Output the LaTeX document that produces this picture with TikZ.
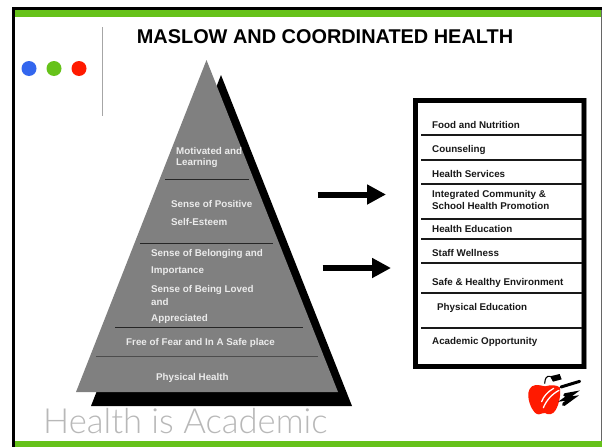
\documentclass[tikz,border=0pt]{standalone}
\usepackage{fontspec}
\setmainfont{Liberation Sans}
\newfontfamily\thinfont[UprightFont={* Light}]{Lato}
\usepackage{xcolor}
\usetikzlibrary{arrows.meta, positioning}
\definecolor{barGreen}{HTML}{66C21A}
\definecolor{dotBlue}{HTML}{3366EE}
\definecolor{appleRed}{HTML}{FF1A00}
\definecolor{pyrGray}{HTML}{808080}
\tikzstyle{arrow} = [line width=6pt,-{Triangle[length=19pt,width=19pt]}]

\begin{document}
\begin{tikzpicture}[x=1pt, y=-1pt]
\tikzstyle{level} = [inner sep=0pt, anchor=west, text=white!92!black, font=\fontsize{9.8}{10}\selectfont\bfseries]
\tikzstyle{item} = [inner sep=0pt, anchor=west, text=black!90, font=\fontsize{9.8}{10}\selectfont\bfseries]
\tikzstyle{divider} = [line width=0.8pt, black!85]
\tikzstyle{rowline} = [line width=1.5pt, black!90]
\tikzstyle{dot} = [circle, minimum size=15pt, inner sep=0pt]

\useasboundingbox (0,0) rectangle (602,447);
\fill[white] (0,0) rectangle (602,447);

% frame and bars
\fill[black] (12,7) rectangle (602,10);
\fill[black] (12,7) rectangle (15,447);
\fill[black!60] (600.5,10) rectangle (602,441);
\fill[barGreen] (15,10) rectangle (601,17);
\fill[barGreen] (15,441) rectangle (602,447);

\node (dotb) [dot, fill=dotBlue] at (29,68.5) {};
\node (dotg) [dot, fill=barGreen] at (54,68.5) {};
\node (dotr) [dot, fill=appleRed] at (79,68.5) {};
\draw[black!35, line width=1pt] (102.5,27) -- (102.5,115.5);

\node (title) [inner sep=0pt, font=\fontsize{19.9}{22}\selectfont\bfseries] at (325,36.5) {MASLOW AND COORDINATED HEALTH};

% pyramid
\fill[black] (221,75) -- (352,406) -- (91,406) -- cycle;
\fill[pyrGray] (206.5,60) -- (338,392) -- (76,392) -- cycle;
\draw[divider] (165,179.5) -- (249,179.5);
\draw[divider] (140,243.7) -- (273,243.7);
\draw[divider] (115,327.3) -- (303,327.3);
\draw[divider, black!70, line width=1pt] (96,356.7) -- (318,356.7);

\node (motivated) [level] at (176,150.5) {Motivated and};
\node (learning) [level] at (176,162.5) {Learning};
\node (positive) [level] at (171,204) {Sense of Positive};
\node (esteem) [level] at (171,221.5) {Self-Esteem};
\node (belonging) [level] at (151,253.5) {Sense of Belonging and};
\node (importance) [level] at (151,271.5) {Importance};
\node (loved) [level] at (151,289.5) {Sense of Being Loved};
\node (and) [level] at (151,301.5) {and};
\node (appreciated) [level] at (151,318.5) {Appreciated};
\node (fear) [level] at (126,342.5) {Free of Fear and In A Safe place};
\node (physical) [level] at (156,377.5) {Physical Health};

% arrows
\coordinate (a1s) at (317.5,194.5);
\coordinate (a1e) at (386,194.5);
\coordinate (a2s) at (322.5,268);
\coordinate (a2e) at (391,268);
\draw [arrow] (a1s) -- (a1e);
\draw [arrow] (a2s) -- (a2e);

% component box
\draw[black!45, line width=5.4pt] (415.5,100.5) rectangle (584,366.5);
\draw[black, line width=4.4pt] (415.5,100.5) rectangle (584,366.5);
\draw[rowline] (421,135) -- (582,135);
\draw[rowline] (421,160) -- (582,160);
\draw[rowline] (421,184) -- (582,184);
\draw[rowline] (421,219) -- (582,219);
\draw[rowline] (421,239) -- (582,239);
\draw[rowline] (421,263) -- (582,263);
\draw[rowline] (421,293) -- (582,293);
\draw[rowline] (421,328) -- (582,328);

\node (food) [item] at (432,125) {Food and Nutrition};
\node (counsel) [item] at (432,150) {Counseling};
\node (services) [item] at (432,174) {Health Services};
\node (integrated) [item] at (432,194.5) {Integrated Community \&};
\node (school) [item] at (432,206) {School Health Promotion};
\node (education) [item] at (432,229) {Health Education};
\node (wellness) [item] at (432,253) {Staff Wellness};
\node (safe) [item] at (432,283) {Safe \& Healthy Environment};
\node (pe) [item] at (437,308) {Physical Education};
\node (academic) [item] at (432,342) {Academic Opportunity};

% apple logo
\begin{scope}[shift={(515,365)}, x=0.3333pt, y=-0.3333pt]
\fill[appleRed] (62,60) .. controls (45,62) and (38,78) .. (40,95) .. controls (42,120) and (58,150) .. (72,148) .. controls (80,147) and (84,143) .. (90,144) .. controls (98,150) and (115,150) .. (122,135) .. controls (132,118) and (138,90) .. (135,68) .. controls (125,58) and (105,60) .. (90,64) .. controls (80,62) and (70,59) .. (62,60) -- cycle;
\draw[white, line width=1.3pt, line cap=round] (85,128) .. controls (95,105) and (110,88) .. (132,76);
\draw[white, line width=1.3pt, line cap=round] (80,110) .. controls (85,95) and (98,80) .. (116,70);
\fill[black] (105,34) -- (134,27) -- (140,43) -- (114,50) -- cycle;
\draw[black, line width=1.1pt] (106,34) .. controls (94,32) and (90,40) .. (89,56);
\draw[black, line width=3pt, line cap=round] (138,66) -- (194,49);
\draw[black, line width=3.6pt, line cap=round] (150,90) -- (172,86) -- (150,102) -- (172,99) -- (146,118);
\end{scope}

\node (tagline) [inner sep=0pt, anchor=west, text=black!28, font=\fontsize{34.6}{36}\selectfont\thinfont] at (43,421) {Health is Academic};

\end{tikzpicture}
\end{document}
